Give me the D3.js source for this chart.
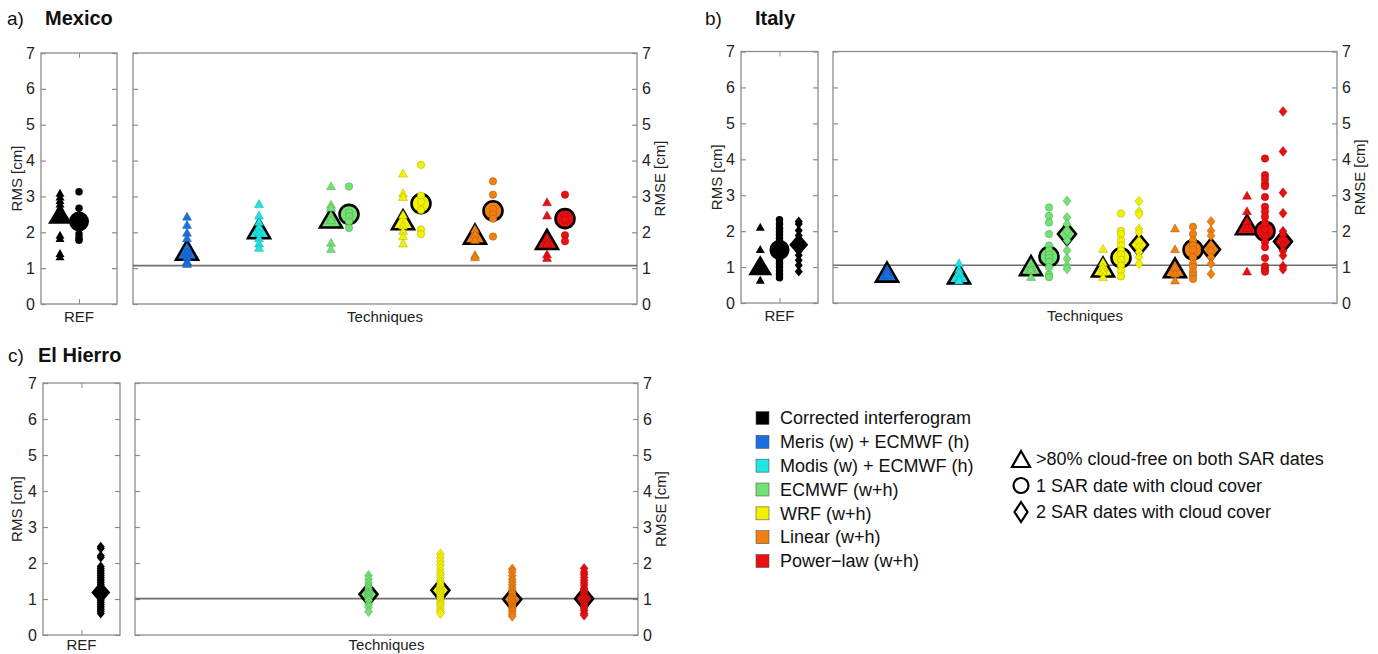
<!DOCTYPE html>
<html><head><meta charset="utf-8">
<script src="https://cdn.jsdelivr.net/npm/d3@7"></script>
<style>
body{margin:0;background:#fff;}
text{font-family:"Liberation Sans",Arial,Helvetica,sans-serif;}
</style></head>
<body><svg id="c" width="1378" height="654"></svg>
<script>
// ---------------- DATA ----------------
const techniques = ["Corrected interferogram","Meris (w) + ECMWF (h)","Modis (w) + ECMWF (h)","ECMWF (w+h)","WRF (w+h)","Linear (w+h)","Power\u2212law (w+h)"];
const techColors = ["#000000","#1a70e0","#1ee6e6","#72e272","#f2f200","#f08012","#e81010"];
const shapeLabels = [">80% cloud-free on both SAR dates","1 SAR date with cloud cover","2 SAR dates with cloud cover"];
const yTicks = [0,1,2,3,4,5,6,7];

// Mexico (index 0 = REF, 1..6 = techniques)
const mexicoTri = [
  [3.1,3.0,2.9,2.8,2.7,2.55,2.45,1.93,1.84,1.42,1.33],
  [2.45,2.22,2.0,1.85,1.6,1.45,1.32,1.2,1.13],
  [2.8,2.48,2.3,2.15,2.0,1.85,1.7,1.58],
  [3.3,2.78,2.7,2.45,2.35,1.72,1.55],
  [3.65,3.1,3.0,2.5,2.2,2.05,1.9,1.7],
  [2.1,1.95,1.8,1.38,1.32],
  [2.85,2.48,1.85,1.7,1.4,1.3]
];
const mexicoTriMean = [2.52,1.5,2.1,2.4,2.35,1.95,1.8];
const mexicoCirc = [
  [3.13,2.67,2.45,2.3,2.2,1.95,1.85,1.78],
  null, null,
  [3.28,2.55,2.45,2.3,2.12],
  [3.88,3.02,2.85,2.62,2.08,1.95],
  [3.42,3.05,2.65,2.5,2.38,1.88],
  [3.05,2.45,2.35,1.92,1.75]
];
const mexicoCircMean = [2.3,null,null,2.5,2.8,2.6,2.38];
const mexicoDiam = [null,null,null,null,null,null,null];
const mexicoDiamMean = [null,null,null,null,null,null,null];
const mexicoLine = 1.07;

// Italy
const italyTri = [
  [2.12,1.5,1.1,1.0,0.65],
  [0.95,0.88,0.8],
  [1.12,0.95,0.85,0.72,0.64],
  [1.12,1.0,0.92,0.74],
  [1.52,1.15,1.0,0.88,0.74],
  [2.09,1.51,1.0,0.83,0.64],
  [3.0,2.57,2.3,2.1,0.89]
];
const italyTriMean = [1.05,0.86,0.81,1.04,1.0,0.98,2.18];
const italyCirc = [
  [2.32,2.2,2.08,1.98,1.9,1.8,1.7,1.6,1.4,1.3,1.2,1.1,1.0,0.9,0.8,0.7],
  null, null,
  [2.66,2.43,2.24,1.92,1.6,1.46,1.35,1.25,1.14,1.0,0.79,0.72],
  [2.49,2.01,1.92,1.74,1.6,1.46,1.35,1.2,1.04,0.9,0.74],
  [2.12,1.92,1.74,1.6,1.48,1.27,1.09,1.0,0.86,0.77,0.67],
  [4.02,3.56,3.45,3.32,3.25,2.95,2.68,2.55,2.4,2.22,2.05,1.85,1.7,1.55,1.25,1.02,0.93,0.87]
];
const italyCircMean = [1.48,null,null,1.29,1.26,1.48,2.0];
const italyDiam = [
  [2.27,2.2,2.02,1.88,1.75,1.6,1.45,1.33,1.19,1.05,0.88],
  null, null,
  [2.84,2.38,2.19,2.0,1.74,1.46,1.23,1.04,0.95],
  [2.83,2.54,2.47,2.06,1.97,1.7,1.55,1.41,1.27,1.09],
  [2.27,2.01,1.87,1.6,1.45,1.27,1.09,0.81],
  [5.33,4.22,3.07,2.5,2.0,1.9,1.75,1.6,1.45,1.32,1.02,0.94]
];
const italyDiamMean = [1.62,null,null,1.92,1.62,1.49,1.71];
const italyLine = 1.05;

// El Hierro
const hierroTri = [null,null,null,null,null,null,null];
const hierroTriMean = [null,null,null,null,null,null,null];
const hierroCirc = [null,null,null,null,null,null,null];
const hierroCircMean = [null,null,null,null,null,null,null];
const hierroDiam = [
  [2.45,2.4,2.2,2.15,1.9,1.85,1.8,1.75,1.7,1.65,1.6,1.55,1.5,1.45,1.4,1.35,1.3,1.25,1.2,1.15,1.1,1.05,1.0,0.95,0.9,0.85,0.8,0.75,0.7,0.65,0.6],
  null, null,
  [1.65,1.55,1.45,1.35,1.28,1.2,1.15,1.1,1.05,1.0,0.95,0.85,0.78,0.65],
  [2.25,2.15,2.05,1.95,1.85,1.75,1.68,1.6,1.52,1.45,1.38,1.3,1.25,1.2,1.15,1.1,1.05,1.0,0.95,0.9,0.85,0.8,0.72,0.65,0.6],
  [1.83,1.75,1.65,1.55,1.48,1.4,1.32,1.25,1.18,1.12,1.05,1.0,0.95,0.9,0.85,0.8,0.75,0.7,0.65,0.58,0.52],
  [1.85,1.75,1.68,1.6,1.52,1.45,1.38,1.3,1.25,1.2,1.15,1.1,1.05,1.0,0.95,0.9,0.85,0.8,0.75,0.68,0.6,0.55]
];
const hierroDiamMean = [1.18,null,null,1.13,1.24,0.99,1.01];
const hierroLine = 1.01;

// ---------------- DRAW ----------------
const svg = d3.select("#c");
const AX = "#8c8c8c", TXT = "#222";
const FONT = '"Liberation Sans",Arial,sans-serif';

const shapes = {
  tri: (w,h) => `M0,${-h/2}L${w/2},${h/2}L${-w/2},${h/2}Z`,
  diam: (w,h) => `M0,${-h/2}L${w/2},0L0,${h/2}L${-w/2},0Z`,
  circ: (w) => { const r=w/2; return `M${r},0A${r},${r},0,1,1,${-r},0A${r},${r},0,1,1,${r},0Z`; }
};
const smallSize = {tri:[9,8], circ:[7.5,7.5], diam:[8,10]};
const bigSize = {tri:[22,19], circ:[19,19], diam:[18,22]};
const refBigSize = {tri:[24,20], circ:[20,20], diam:[19,22]};
const offset = {tri:-0.25, circ:0, diam:0.25};

const panels = [
  {lab:"a)", name:"Mexico", lx:7, nx:45, ty:25, ref:[41,117], tech:[133,637], yr:[304,53], ylabX:17, xlabOff:18,
   tri:mexicoTri, triM:mexicoTriMean, circ:mexicoCirc, circM:mexicoCircMean, diam:mexicoDiam, diamM:mexicoDiamMean, line:mexicoLine},
  {lab:"b)", name:"Italy", lx:705, nx:755, ty:25, ref:[741,818], tech:[833,1337], yr:[303,51.5], ylabX:717, xlabOff:18,
   tri:italyTri, triM:italyTriMean, circ:italyCirc, circM:italyCircMean, diam:italyDiam, diamM:italyDiamMean, line:italyLine},
  {lab:"c)", name:"El Hierro", lx:8, nx:38, ty:362, ref:[43,120], tech:[135,638], yr:[635,383], ylabX:17, xlabOff:15,
   tri:hierroTri, triM:hierroTriMean, circ:hierroCirc, circM:hierroCircMean, diam:hierroDiam, diamM:hierroDiamMean, line:hierroLine}
];

panels.forEach(p => {
  const g = svg.append("g");
  const y = d3.scaleLinear().domain([0,7]).range(p.yr);
  const xr = d3.scaleLinear().domain([0.5,1.5]).range(p.ref);
  const xt = d3.scaleLinear().domain([0,7]).range(p.tech);

  g.append("text").attr("x",p.lx).attr("y",p.ty).attr("font-size",19).attr("fill","#111").text(p.lab);
  g.append("text").attr("x",p.nx).attr("y",p.ty).attr("font-size",20).attr("font-weight","bold").attr("fill","#111").text(p.name);

  // boxes
  [[p.ref[0],p.ref[1]],[p.tech[0],p.tech[1]]].forEach(b => {
    g.append("rect").attr("x",b[0]).attr("y",p.yr[1]).attr("width",b[1]-b[0]).attr("height",p.yr[0]-p.yr[1])
      .attr("fill","none").attr("stroke",AX).attr("stroke-width",1.3);
  });
  const styleAxis = (sel, labels) => {
    sel.select(".domain").remove();
    sel.selectAll(".tick line").attr("stroke",AX).attr("stroke-width",1.2);
    sel.selectAll(".tick text").attr("fill",TXT).attr("font-size",labels?16:0).style("font-family",FONT);
  };
  g.append("g").attr("transform",`translate(${p.ref[0]},0)`)
    .call(d3.axisLeft(y).tickValues(yTicks).tickSize(-5).tickPadding(6).tickFormat(d3.format("d"))).call(s=>styleAxis(s,true));
  g.append("g").attr("transform",`translate(${p.ref[1]},0)`)
    .call(d3.axisRight(y).tickValues(yTicks).tickSize(-5).tickFormat("")).call(s=>styleAxis(s,false));
  g.append("g").attr("transform",`translate(${p.tech[0]},0)`)
    .call(d3.axisLeft(y).tickValues(yTicks).tickSize(-5).tickFormat("")).call(s=>styleAxis(s,false));
  g.append("g").attr("transform",`translate(${p.tech[1]},0)`)
    .call(d3.axisRight(y).tickValues(yTicks).tickSize(-5).tickPadding(5).tickFormat(d3.format("d"))).call(s=>styleAxis(s,true));
  // REF x tick marks (top and bottom)
  g.append("g").attr("transform",`translate(0,${p.yr[0]})`)
    .call(d3.axisBottom(xr).tickValues([1]).tickSize(-5).tickFormat(""))
    .call(s=>{ s.select(".domain").remove(); s.selectAll(".tick line").attr("stroke",AX); });
  g.append("g").attr("transform",`translate(0,${p.yr[1]})`)
    .call(d3.axisTop(xr).tickValues([1]).tickSize(-5).tickFormat(""))
    .call(s=>{ s.select(".domain").remove(); s.selectAll(".tick line").attr("stroke",AX); });
  g.append("text").attr("x",xr(1)).attr("y",p.yr[0]+p.xlabOff).attr("text-anchor","middle")
    .attr("font-size",15).attr("fill",TXT).text("REF");

  g.append("text").attr("x",(p.tech[0]+p.tech[1])/2).attr("y",p.yr[0]+p.xlabOff).attr("text-anchor","middle")
    .attr("font-size",15).attr("fill",TXT).text("Techniques");
  const ym = (p.yr[0]+p.yr[1])/2;
  g.append("text").attr("transform",`translate(${p.ylabX},${ym}) rotate(-90)`).attr("text-anchor","middle")
    .attr("dy","0.35em").attr("font-size",15).attr("fill",TXT).text("RMS [cm]");
  g.append("text").attr("transform",`translate(${p.tech[1]+23},${ym}) rotate(-90)`).attr("text-anchor","middle")
    .attr("dy","0.35em").attr("font-size",15).attr("fill",TXT).text("RMSE [cm]");

  // reference line
  g.append("line").attr("x1",p.tech[0]).attr("x2",p.tech[1]).attr("y1",y(p.line)).attr("y2",y(p.line))
    .attr("stroke","#6e6e6e").attr("stroke-width",1.6);

  const sets = [["tri",p.tri,p.triM],["circ",p.circ,p.circM],["diam",p.diam,p.diamM]];
  for (let i=0;i<7;i++) {
    const col = techColors[i];
    sets.forEach(([s,vals,means]) => {
      if (!vals || !vals[i]) return;
      const cx = i===0 ? xr(1+offset[s]) : xt(i+offset[s]);
      const bs = i===0 ? refBigSize[s] : bigSize[s];
      // mean marker (big)
      g.append("path").attr("d",shapes[s](bs[0],bs[1]))
        .attr("transform",`translate(${cx},${y(means[i])})`)
        .attr("fill",col).attr("stroke","#000").attr("stroke-width",i===0?0:2.6).attr("stroke-linejoin","miter");
      // individual markers
      g.selectAll(null).data(vals[i]).enter().append("path")
        .attr("d",shapes[s](smallSize[s][0],smallSize[s][1]))
        .attr("transform",d=>`translate(${cx},${y(d)})`)
        .attr("fill",col)
        .attr("stroke",i===0?"none":d3.color(col).darker(1.2).formatHex())
        .attr("stroke-opacity",0.6).attr("stroke-width",0.7);
    });
  }
});

// ---------------- LEGENDS ----------------
const lg = svg.append("g");
const legY = d3.scalePoint().domain(techniques).range([418,561]);
techniques.forEach((t,i) => {
  lg.append("rect").attr("x",756).attr("y",legY(t)-6.5).attr("width",13).attr("height",13)
    .attr("fill",techColors[i]).attr("stroke","#555").attr("stroke-width",0.6);
  lg.append("text").attr("x",780).attr("y",legY(t)).attr("dy","0.35em").attr("font-size",18).attr("fill","#111").text(t);
});
const shpY = d3.scalePoint().domain(shapeLabels).range([459,512]);
const legShapes = [shapes.tri(18,16), shapes.circ(15), shapes.diam(13,20)];
shapeLabels.forEach((t,i) => {
  lg.append("path").attr("d",legShapes[i]).attr("transform",`translate(1021,${shpY(t)})`)
    .attr("fill","none").attr("stroke","#000").attr("stroke-width",2.2);
  lg.append("text").attr("x",1036).attr("y",shpY(t)).attr("dy","0.35em").attr("font-size",18).attr("fill","#111").text(t);
});
</script></body></html>
